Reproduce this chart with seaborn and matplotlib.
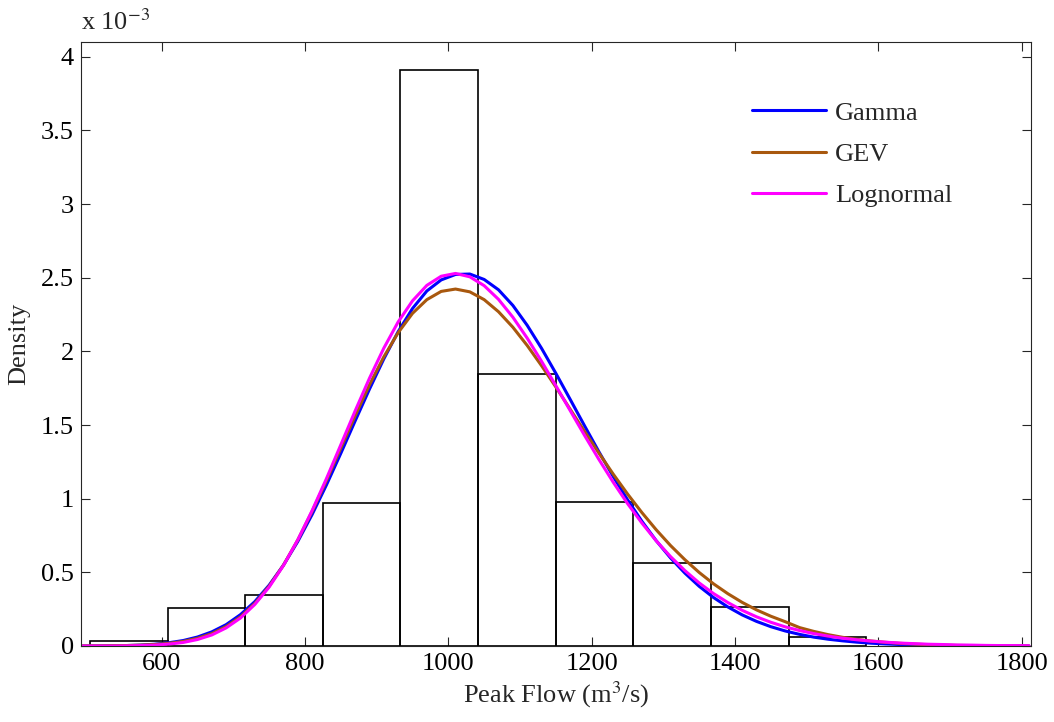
import matplotlib
matplotlib.use("Agg")
import matplotlib.pyplot as plt
import seaborn as sns

##############################################
### DATA (density values in units of 1e-3) ###
##############################################

# histogram of observed peak flows
bin_edges = [500.0, 608.3, 716.6, 824.9, 933.2, 1041.5, 1149.8, 1258.1, 1366.4, 1474.7, 1583.0]
bin_heights = [0.032, 0.255, 0.349, 0.974, 3.91, 1.846, 0.98, 0.562, 0.267, 0.059]

# fitted pdf curves, every 20 m3/s
flow_x = [490, 510, 530, 550, 570, 590, 610, 630, 650, 670, 690, 710, 730, 750, 770, 790,
          810, 830, 850, 870, 890, 910, 930, 950, 970, 990, 1010, 1030, 1050, 1070, 1090,
          1110, 1130, 1150, 1170, 1190, 1210, 1230, 1250, 1270, 1290, 1310, 1330, 1350,
          1370, 1390, 1410, 1430, 1450, 1470, 1490, 1510, 1530, 1550, 1570, 1590, 1610,
          1630, 1650, 1670, 1690, 1710, 1730, 1750, 1770, 1790, 1810]

gamma_pdf = [0.000, 0.001, 0.002, 0.003, 0.006, 0.012, 0.022, 0.037, 0.061, 0.096, 0.145,
             0.213, 0.301, 0.413, 0.549, 0.710, 0.893, 1.094, 1.308, 1.528, 1.744, 1.949,
             2.134, 2.291, 2.410, 2.485, 2.522, 2.525, 2.488, 2.418, 2.312, 2.177, 2.021, 1.851,
             1.674, 1.495, 1.319, 1.151, 0.993, 0.847, 0.715, 0.598, 0.495, 0.405, 0.329,
             0.265, 0.211, 0.167, 0.131, 0.102, 0.079, 0.060, 0.046, 0.035, 0.026, 0.019,
             0.014, 0.010, 0.008, 0.006, 0.004, 0.003, 0.002, 0.001, 0.001, 0.001, 0.000]

gev_pdf = [0.001, 0.001, 0.002, 0.003, 0.006, 0.010, 0.018, 0.031, 0.052, 0.084, 0.132,
           0.198, 0.289, 0.406, 0.549, 0.720, 0.914, 1.124, 1.344, 1.563, 1.773, 1.963,
           2.127, 2.258, 2.351, 2.407, 2.423, 2.404, 2.351, 2.269, 2.164, 2.040, 1.903,
           1.758, 1.607, 1.457, 1.310, 1.167, 1.032, 0.906, 0.789, 0.682, 0.586, 0.499,
           0.422, 0.355, 0.296, 0.245, 0.202, 0.165, 0.125, 0.099, 0.077, 0.059, 0.045,
           0.034, 0.025, 0.018, 0.013, 0.009, 0.006, 0.004, 0.003, 0.002, 0.001, 0.001, 0.000]

lognormal_pdf = [0.000, 0.000, 0.000, 0.001, 0.003, 0.006, 0.013, 0.024, 0.044, 0.075, 0.123,
                 0.190, 0.282, 0.400, 0.547, 0.721, 0.920, 1.137, 1.366, 1.596, 1.818, 2.022,
                 2.200, 2.343, 2.448, 2.510, 2.529, 2.506, 2.446, 2.353, 2.232, 2.090, 1.933,
                 1.767, 1.598, 1.430, 1.267, 1.112, 0.967, 0.835, 0.714, 0.607, 0.512, 0.428,
                 0.356, 0.295, 0.242, 0.198, 0.161, 0.130, 0.105, 0.084, 0.067, 0.053, 0.042,
                 0.033, 0.026, 0.020, 0.016, 0.012, 0.010, 0.007, 0.006, 0.004, 0.003, 0.003, 0.002]

x_ticks = [600, 800, 1000, 1200, 1400, 1600, 1800]
y_ticks = [0, 0.5, 1, 1.5, 2, 2.5, 3, 3.5, 4]

##############################################
### PLOT #####################################
##############################################

sns.set_style("ticks")
plt.rcParams['font.family'] = ['Liberation Serif', 'DejaVu Serif']
plt.rcParams['mathtext.fontset'] = 'stix'

fig = plt.figure(figsize=(10.54, 7.22), dpi=100)
ax = fig.add_axes([81 / 1054, 1 - 646 / 722, 949.7 / 1054, 604 / 722])

# bars: one weighted observation per bin centre gives the bar height
centers = [(a + b) / 2 for a, b in zip(bin_edges[:-1], bin_edges[1:])]
sns.histplot(x=centers, weights=bin_heights, bins=bin_edges, stat="count", fill=False,
             color="black", linewidth=1.2, ax=ax)

sns.lineplot(x=flow_x, y=gamma_pdf, color="#0000ff", lw=2.2, label="Gamma", ax=ax)
sns.lineplot(x=flow_x, y=gev_pdf, color="#a8580e", lw=2.2, label="GEV", ax=ax)
sns.lineplot(x=flow_x, y=lognormal_pdf, color="#ff00ff", lw=2.2, label="Lognormal", ax=ax)

ax.set_xlim(487.5, 1812.5)
ax.set_ylim(0, 4.1)
ax.set_xticks(x_ticks)
ax.set_yticks(y_ticks)
ax.set_yticklabels(["%g" % t for t in y_ticks])
ax.tick_params(direction="in", length=6.5, width=0.8, top=True, right=True,
               labelsize=19, pad=5, colors="#262626", labelcolor="black")
for s in ax.spines.values():
    s.set_color("#262626")
    s.set_linewidth(0.8)

ax.set_xlabel("Peak Flow (m$^3$/s)", fontsize=19, labelpad=3)
ax.set_ylabel("Density", fontsize=19, labelpad=8)
ax.text(0, 1.012, "x 10$^{-3}$", transform=ax.transAxes, fontsize=19, ha="left", va="bottom")

ax.legend(loc="upper left", bbox_to_anchor=(0.7066, 0.902), frameon=False, fontsize=19,
          borderpad=0, borderaxespad=0, handlelength=2.8, handletextpad=0.35, labelspacing=0.68)

fig.savefig("out.png")
